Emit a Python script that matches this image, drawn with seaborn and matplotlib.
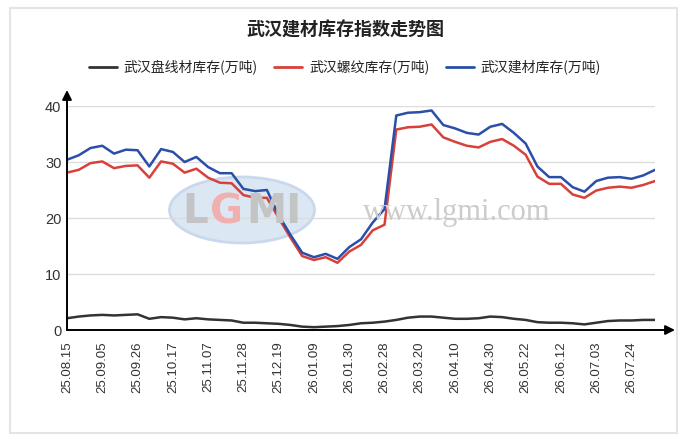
import numpy as np
import pandas as pd
import seaborn as sns
import matplotlib
matplotlib.use('Agg')
import matplotlib.pyplot as plt
from matplotlib.patches import Ellipse, Rectangle

# weekly data, 25.08.15 -> 26.08.07
pan_xian = [2.1, 2.4, 2.6, 2.7, 2.6, 2.7, 2.8, 2.0, 2.3, 2.2,
            1.9, 2.1, 1.9, 1.8, 1.7, 1.3, 1.3, 1.2, 1.1, 0.9,
            0.6, 0.5, 0.6, 0.7, 0.9, 1.2, 1.3, 1.5, 1.8, 2.2,
            2.4, 2.4, 2.2, 2.0, 2.0, 2.1, 2.4, 2.3, 2.0, 1.8,
            1.4, 1.3, 1.3, 1.2, 1.0, 1.3, 1.6, 1.7, 1.7, 1.8, 1.8]
luo_wen = [28.1, 28.6, 29.8, 30.1, 28.9, 29.3, 29.4, 27.2, 30.1, 29.7,
           28.1, 28.8, 27.2, 26.3, 26.2, 24.1, 23.6, 23.6, 20.0, 16.5,
           13.2, 12.5, 13.0, 12.0, 14.0, 15.2, 17.8, 18.8, 35.8, 36.2,
           36.3, 36.7, 34.4, 33.6, 32.9, 32.6, 33.6, 34.1, 32.9, 31.3,
           27.4, 26.1, 26.1, 24.2, 23.6, 24.9, 25.4, 25.6, 25.4, 25.9, 26.6]
jian_cai = [30.4, 31.2, 32.5, 32.9, 31.5, 32.2, 32.1, 29.2, 32.3, 31.8,
            30.0, 30.9, 29.1, 28.0, 28.0, 25.2, 24.8, 25.0, 20.5, 17.0,
            13.8, 13.0, 13.6, 12.7, 14.8, 16.2, 19.2, 21.6, 38.3, 38.8,
            38.9, 39.2, 36.6, 36.0, 35.2, 34.9, 36.3, 36.8, 35.2, 33.3,
            29.2, 27.3, 27.3, 25.5, 24.7, 26.6, 27.2, 27.3, 27.0, 27.6, 28.6]

tick_labels = ['25.08.15', '25.09.05', '25.09.26', '25.10.17', '25.11.07',
               '25.11.28', '25.12.19', '26.01.09', '26.01.30', '26.02.28',
               '26.03.20', '26.04.10', '26.04.30', '26.05.22', '26.06.12',
               '26.07.03', '26.07.24']

names = ['武汉盘线材库存(万吨)', '武汉螺纹库存(万吨)', '武汉建材库存(万吨)']
colors = ['#333333', '#d8413b', '#2b4ea8']

week = np.arange(len(jian_cai))
df = pd.DataFrame({'week': np.tile(week, 3),
                   'value': pan_xian + luo_wen + jian_cai,
                   'series': np.repeat(names, len(week))})

sns.set_style('white')
plt.rcParams['font.family'] = ['Noto Sans CJK SC', 'DejaVu Sans']

W, H = 692, 446
fig = plt.figure(figsize=(W / 100, H / 100), dpi=100)
ax = fig.add_axes([67 / W, 1 - 330 / H, (655 - 67) / W, (330 - 106) / H])

# outer frame
fig.patches.append(Rectangle((10 / W, 1 - 433 / H), 667 / W, 425 / H,
                             transform=fig.transFigure, fill=False,
                             edgecolor='#e4e4e4', lw=1.5))

# watermark
ax.add_patch(Ellipse((242 / W, 1 - 210 / H), 145 / W, 66 / H,
                     transform=fig.transFigure, facecolor='#dce7f4',
                     edgecolor='#c9d8ec', lw=2, zorder=0))
wm = dict(fontsize=29, fontweight='bold', ha='left', va='center',
          family='DejaVu Sans')
fig.text(182 / W, 1 - 212 / H, 'L', color='#c4c4c4', **wm)
fig.text(210 / W, 1 - 212 / H, 'G', color='#f0b0b0', **wm)
fig.text(246 / W, 1 - 212 / H, 'MI', color='#c4c4c4', **wm)
fig.text(457 / W, 1 - 212 / H, 'www.lgmi.com', fontsize=22,
         color='#cccccc', ha='center', va='center', family='Liberation Serif')

sns.lineplot(data=df, x='week', y='value', hue='series', palette=colors,
             hue_order=names, linewidth=1.8, ax=ax, legend=False, zorder=3)

ax.set_xlim(0, len(week) - 1)
ax.set_ylim(0, 40)
ax.set_xticks(np.arange(0, len(week), 3))
ax.set_xticklabels(tick_labels, rotation=90, fontsize=9.5,
                   color='#333333', family='Liberation Sans')
ax.set_yticks([0, 10, 20, 30, 40])
ax.set_yticklabels(['0', '10', '20', '30', '40'], fontsize=10.5,
                   color='#333333', family='Liberation Sans')
ax.tick_params(axis='x', length=4, color='#999999', pad=4)
ax.tick_params(axis='y', length=4, direction='inout', color='#333333', pad=2)
ax.grid(axis='y', color='#dcdcdc', lw=1)
ax.grid(axis='x', visible=False)
ax.set_xlabel('')
ax.set_ylabel('')
for s in ax.spines.values():
    s.set_visible(False)

# axis arrows
arrow = dict(arrowstyle='-|>', color='black', lw=1.4, mutation_scale=14,
             shrinkA=0, shrinkB=0)
ax.annotate('', xy=((675 - 67) / (655 - 67), 0), xytext=(0, 0),
            xycoords='axes fraction', arrowprops=arrow, annotation_clip=False)
ax.annotate('', xy=(0, (330 - 90) / (330 - 106)), xytext=(0, 0),
            xycoords='axes fraction', arrowprops=arrow, annotation_clip=False)

fig.text(345 / W, 1 - 30 / H, '武汉建材库存指数走势图', fontsize=13,
         fontweight='bold', ha='center', va='center', color='#222222')

handles = [plt.Line2D([], [], color=c, lw=2) for c in colors]
fig.legend(handles, names, loc='center', bbox_to_anchor=(345 / W, 1 - 67 / H),
           ncol=3, frameon=False, fontsize=10, handlelength=2.0,
           handletextpad=0.5, columnspacing=1.2, labelcolor='#222222')

fig.savefig('out.png', dpi=100)
